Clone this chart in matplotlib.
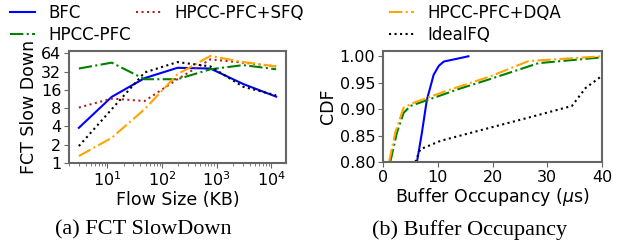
import numpy as np
import matplotlib
matplotlib.use("Agg")
import matplotlib.pyplot as plt
from matplotlib.ticker import FixedLocator, FixedFormatter, NullLocator

# (a) FCT slowdown vs flow size
flow_kb = [3, 12, 48, 192, 768, 3072, 12288]
fct_bfc = [3.8, 12.3, 25, 37, 36, 20, 12.4]
fct_hpcc = [36, 45, 24, 24, 35, 41, 35]
fct_sfq = [8.2, 11.5, 10.5, 24, 51, 45, 39]
fct_dqa = [1.3, 2.6, 7.7, 29, 58, 46, 39]
fct_ideal = [1.9, 7.7, 31, 46, 39, 18, 13]
y_ticks = [1, 2, 4, 8, 16, 32, 64]

# (b) buffer occupancy CDF
bfc_x = [6.2, 7.1, 8.0, 9.25, 10.2, 11.1, 15.6]
bfc_y = [0.80, 0.855, 0.917, 0.965, 0.982, 0.990, 1.0]
hpcc_x = [1.33, 2.55, 3.77, 5.0, 8.6, 14.1, 19.6, 28.4, 40]
hpcc_y = [0.80, 0.856, 0.893, 0.906, 0.919, 0.939, 0.957, 0.987, 0.998]
dqa_x = [1.1, 2.25, 3.77, 5.6, 11.7, 19.6, 26.6, 40]
dqa_y = [0.80, 0.856, 0.903, 0.912, 0.935, 0.962, 0.991, 1.0]
ideal_x = [5.9, 6.8, 10.5, 19.6, 26.6, 34.5, 37.0, 40]
ideal_y = [0.80, 0.824, 0.840, 0.865, 0.884, 0.906, 0.940, 0.963]

plt.rcParams['font.family'] = 'DejaVu Sans'
spine_col = '0.4'

fig = plt.figure(figsize=(6.25, 2.5), dpi=100)
ax1 = fig.add_axes([0.1104, 0.348, 0.3472, 0.448])
ax2 = fig.add_axes([0.6128, 0.352, 0.3504, 0.444])

l_bfc, = ax1.plot(flow_kb, fct_bfc, color='#0000ff', lw=1.5, label='BFC')
l_hpcc, = ax1.plot(flow_kb, fct_hpcc, color='green', lw=1.5, ls='-.', label='HPCC-PFC')
l_sfq, = ax1.plot(flow_kb, fct_sfq, color='firebrick', lw=1.5, ls=':', label='HPCC-PFC+SFQ')
l_dqa, = ax1.plot(flow_kb, fct_dqa, color='orange', lw=1.5, ls='-.', label='HPCC-PFC+DQA')
l_ideal, = ax1.plot(flow_kb, fct_ideal, color='black', lw=1.5, ls=':', label='IdealFQ')
ax1.set_xscale('log')
ax1.set_yscale('log', base=2)
ax1.set_ylim(1, 70)
ax1.yaxis.set_major_locator(FixedLocator(y_ticks))
ax1.yaxis.set_major_formatter(FixedFormatter([str(t) for t in y_ticks]))
ax1.yaxis.set_minor_locator(NullLocator())
ax1.set_xticks([10, 100, 1000, 10000])
ax1.set_xlabel('Flow Size (KB)', fontsize=12.5, labelpad=1)
ax1.set_ylabel('FCT Slow Down', fontsize=12.5, labelpad=2)

ax2.plot(bfc_x, bfc_y, color='#0000ff', lw=1.5)
ax2.plot(hpcc_x, hpcc_y, color='green', lw=1.5, ls='-.')
ax2.plot(dqa_x, dqa_y, color='orange', lw=1.5, ls='-.')
ax2.plot(ideal_x, ideal_y, color='black', lw=1.5, ls=':')
ax2.set_xlim(0, 40)
ax2.set_ylim(0.8, 1.01)
ax2.set_xticks([0, 10, 20, 30, 40])
ax2.set_yticks([0.80, 0.85, 0.90, 0.95, 1.00])
ax2.set_yticklabels(['0.80', '0.85', '0.90', '0.95', '1.00'])
ax2.set_xlabel('Buffer Occupancy ($\\mu$s)', fontsize=12.5, labelpad=1)
ax2.set_ylabel('CDF', fontsize=12.5, labelpad=2)

for ax in (ax1, ax2):
    for s in ax.spines.values():
        s.set_color(spine_col)
        s.set_linewidth(1.5)
    ax.tick_params(which='both', colors=spine_col, labelcolor='black', labelsize=11.5, pad=2)

fig.legend(handles=[l_bfc, l_hpcc, l_sfq], loc='upper left', bbox_to_anchor=(0.006, 1.012),
           ncol=2, frameon=False, fontsize=12, handlelength=1.5, handletextpad=0.8,
           columnspacing=0.25, labelspacing=0.25, borderaxespad=0)
fig.legend(handles=[l_dqa, l_ideal], loc='upper left', bbox_to_anchor=(0.612, 1.012),
           ncol=1, frameon=False, fontsize=12, handlelength=1.5, handletextpad=0.8,
           labelspacing=0.25, borderaxespad=0)

fig.text(0.229, 0.08, '(a) FCT SlowDown', family='Liberation Serif', fontsize=16,
         ha='center', va='center')
fig.text(0.752, 0.08, '(b) Buffer Occupancy', family='Liberation Serif', fontsize=16,
         ha='center', va='center')

fig.savefig('out.png', dpi=100)
